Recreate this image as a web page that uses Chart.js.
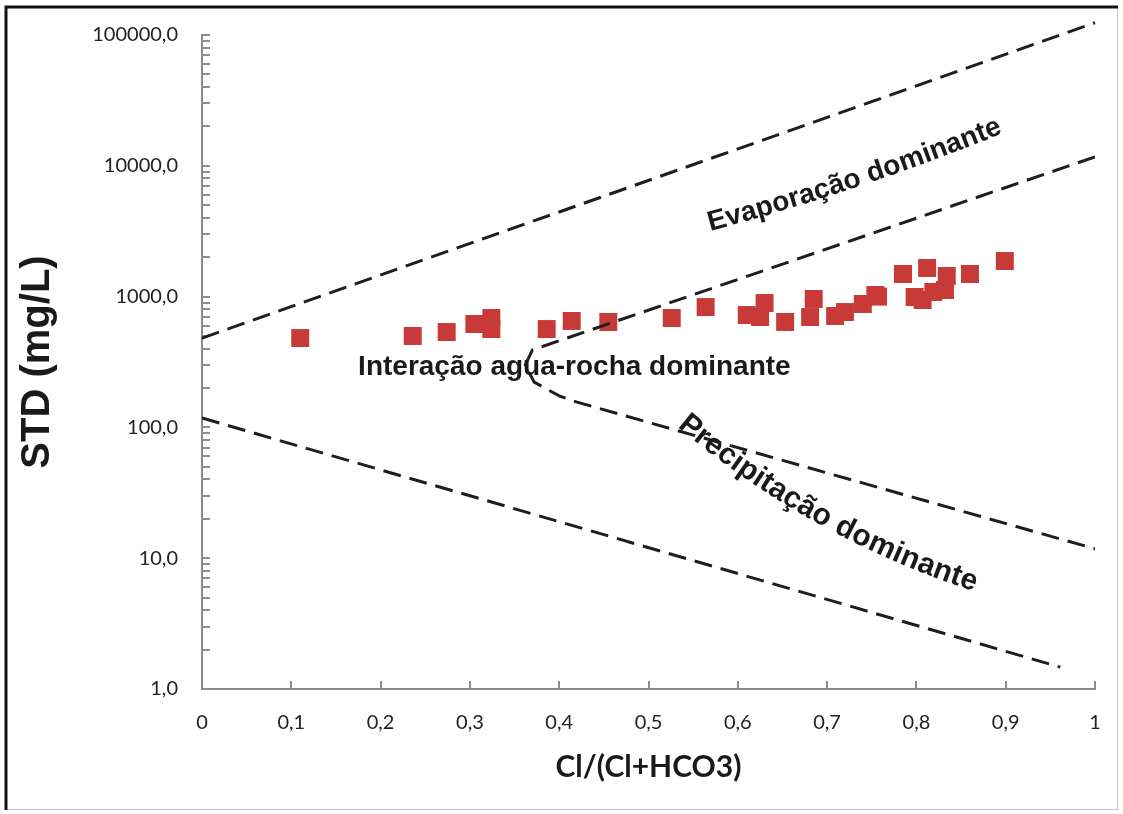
<!DOCTYPE html>
<html>
<head>
<meta charset="utf-8">
<script src="https://cdn.jsdelivr.net/npm/chart.js@4.4.1/dist/chart.umd.min.js"></script>
<style>
  html, body { margin: 0; padding: 0; background: #fff; }
  #wrap { width: 1123px; height: 814px; position: relative; }
</style>
</head>
<body>
<div id="wrap"><canvas id="gibbs" width="1123" height="814"></canvas></div>
<script>
// sample points: Cl/(Cl+HCO3) vs STD (mg/L)
const clRatio = [0.11, 0.236, 0.274, 0.305, 0.324, 0.324, 0.386, 0.414, 0.455, 0.526,
  0.564, 0.61, 0.625, 0.63, 0.653, 0.681, 0.685, 0.709, 0.72, 0.74,
  0.754, 0.757, 0.785, 0.798, 0.807, 0.812, 0.819, 0.832, 0.834, 0.86, 0.899];
const stdValues = [482, 500, 536, 617, 686, 565, 565, 651, 640, 686,
  832, 723, 698, 893, 640, 698, 959, 711, 762, 878,
  1028, 1000, 1489, 993, 942, 1655, 1085, 1123, 1437, 1489, 1871];

// Gibbs boundary lines
const evapLineX = [0, 1];
const evapLineY = [482, 124000];
const rockLineX = [1, 0.37, 0.362, 0.372, 0.40, 0.42, 1];
const rockLineY = [11700, 391, 300, 222, 174, 156, 11.8];
const precLineX = [0, 0.961];
const precLineY = [118, 1.47];

const xTicks = [0, 0.1, 0.2, 0.3, 0.4, 0.5, 0.6, 0.7, 0.8, 0.9, 1];
const yDecades = [1, 10, 100, 1000, 10000, 100000];

const toXY = (xs, ys) => xs.map((x, i) => ({ x: x, y: ys[i] }));

const dashStyle = {
  type: "line",
  borderColor: "#1e1e1e",
  borderWidth: 3,
  borderDash: [18, 9],
  pointRadius: 0,
  showLine: true,
  fill: false,
  tension: 0,
};

// frame + white background
const framePlugin = {
  id: "frame",
  beforeDraw(chart) {
    const c = chart.ctx;
    c.save();
    c.fillStyle = "#fff";
    c.fillRect(0, 0, chart.width, chart.height);
    c.strokeStyle = "#c8c8c8";
    c.lineWidth = 1;
    c.strokeRect(6.5, 7.5, 1111, 802);
    c.strokeStyle = "#111";
    c.lineWidth = 3;
    c.beginPath();
    c.moveTo(6, 810);
    c.lineTo(6, 7);
    c.lineTo(1118, 7);
    c.stroke();
    c.restore();
  },
};

// text along a gently bent path, centred on (ax, ay);
// the baseline angle goes from a0 to a1 degrees over the text
function drawBentText(c, text, ax, ay, a0, a1) {
  const chars = [...text];
  const widths = chars.map((ch) => c.measureText(ch).width);
  const total = widths.reduce((a, b) => a + b, 0);
  const angleAt = (s) => ((a0 + ((a1 - a0) * s) / total) * Math.PI) / 180;
  const posAt = (s) => {
    let x = 0, y = 0;
    for (let t = 0; t < s; t += 1) {
      const th = angleAt(t + 0.5);
      const step = Math.min(1, s - t);
      x += Math.cos(th) * step;
      y += Math.sin(th) * step;
    }
    return [x, y];
  };
  const mid = posAt(total / 2);
  let s = 0;
  chars.forEach((ch, i) => {
    const sm = s + widths[i] / 2;
    const p = posAt(sm);
    c.save();
    c.translate(ax + p[0] - mid[0], ay + p[1] - mid[1]);
    c.rotate(angleAt(sm));
    c.fillText(ch, 0, 0);
    c.restore();
    s += widths[i];
  });
}

// region labels
const labelPlugin = {
  id: "regionLabels",
  afterDatasetsDraw(chart) {
    const c = chart.ctx;
    const xs = chart.scales.x;
    const ys = chart.scales.y;
    c.save();
    c.fillStyle = "#1a1a1a";
    c.textAlign = "center";
    c.textBaseline = "middle";
    c.font = "bold 28px 'Liberation Sans', Arial, sans-serif";
    c.fillText("Interação agua-rocha dominante", xs.getPixelForValue(0.417), ys.getPixelForValue(290));
    drawBentText(c, "Evaporação dominante", xs.getPixelForValue(0.732), ys.getPixelForValue(7900), -15, -22);
    c.font = "bold 30px 'Liberation Sans', Arial, sans-serif";
    drawBentText(c, "Precipitação dominante", xs.getPixelForValue(0.694), ys.getPixelForValue(21), 40, 18);
    c.restore();
  },
};

const ctx = document.getElementById("gibbs").getContext("2d");

new Chart(ctx, {
  type: "scatter",
  data: {
    datasets: [
      Object.assign({}, dashStyle, { data: toXY(evapLineX, evapLineY), clip: false }),
      Object.assign({}, dashStyle, { data: toXY(rockLineX, rockLineY) }),
      Object.assign({}, dashStyle, { data: toXY(precLineX, precLineY) }),
      {
        data: toXY(clRatio, stdValues),
        pointStyle: "rect",
        pointRadius: 12.7,
        backgroundColor: "#c73a38",
        borderColor: "#c73a38",
        borderWidth: 0,
      },
    ],
  },
  options: {
    responsive: false,
    animation: false,
    layout: { padding: { left: 0, right: 28, top: 35, bottom: 0 } },
    plugins: {
      legend: { display: false },
      tooltip: { enabled: false },
    },
    scales: {
      x: {
        type: "linear",
        min: 0,
        max: 1,
        afterBuildTicks: (scale) => {
          scale.ticks = xTicks.map((v) => ({ value: v }));
        },
        afterFit: (scale) => {
          scale.height = 125;
          scale.paddingLeft = 0;
          scale.paddingRight = 0;
        },
        ticks: {
          padding: 30,
          color: "#222",
          font: { family: "Lato, sans-serif", size: 20 },
          callback: (v) => (v === 0 ? "0" : v === 1 ? "1" : v.toFixed(1).replace(".", ",")),
        },
        grid: { drawOnChartArea: false, tickLength: -8, color: "#8c8c8c", lineWidth: 2 },
        border: { color: "#8c8c8c", width: 2 },
        title: {
          display: true,
          text: "Cl/(Cl+HCO3)",
          color: "#1a1a1a",
          font: { family: "Lato, sans-serif", size: 30, weight: "bold" },
          padding: { top: 0, bottom: 29 },
        },
      },
      y: {
        type: "logarithmic",
        min: 1,
        max: 100000,
        afterBuildTicks: (scale) => {
          const t = [];
          yDecades.forEach((d) => {
            for (let k = 1; k <= 9; k++) {
              if (d * k <= 100000) t.push({ value: d * k, major: k === 1 });
            }
          });
          scale.ticks = t;
        },
        afterFit: (scale) => {
          scale.width = 202;
          scale.paddingTop = 0;
          scale.paddingBottom = 0;
        },
        ticks: {
          autoSkip: false,
          padding: 32,
          color: "#222",
          font: { family: "Lato, sans-serif", size: 20 },
          callback: (v) => (yDecades.includes(v) ? v.toFixed(1).replace(".", ",") : ""),
        },
        grid: { drawOnChartArea: false, tickLength: -8, color: "#8c8c8c", lineWidth: 2 },
        border: { color: "#8c8c8c", width: 2 },
        title: {
          display: true,
          text: "STD (mg/L)",
          color: "#1a1a1a",
          font: { family: "'Liberation Sans', Arial, sans-serif", size: 40, weight: "bold" },
          padding: { top: 14, bottom: 0 },
        },
      },
    },
  },
  plugins: [framePlugin, labelPlugin],
});
</script>
</body>
</html>
